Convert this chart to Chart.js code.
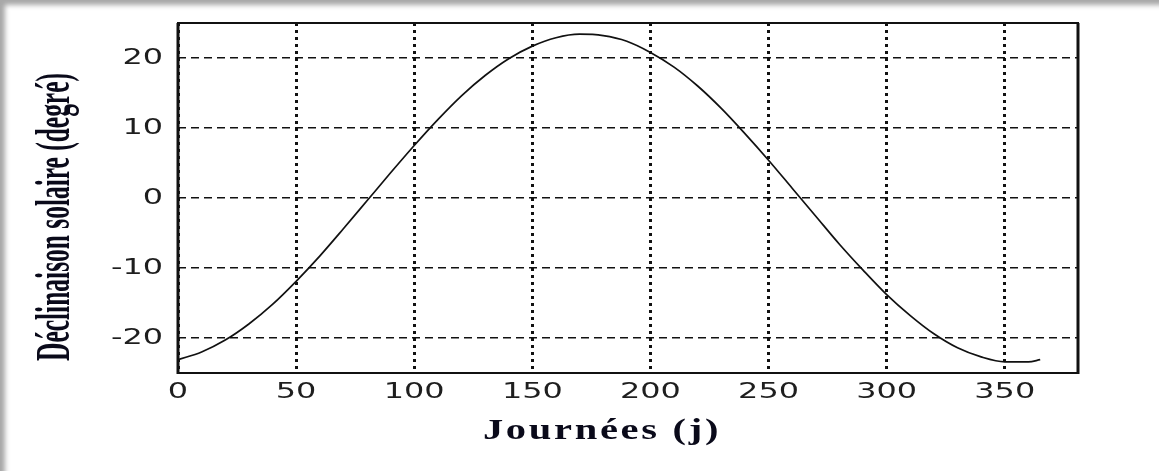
<!DOCTYPE html>
<html>
<head>
<meta charset="utf-8">
<script src="https://cdn.jsdelivr.net/npm/chart.js@4.4.1/dist/chart.umd.min.js"></script>
<style>
  html, body { margin: 0; padding: 0; background: #ffffff; }
  #wrap { position: relative; width: 1159px; height: 471px; box-shadow: inset 6px 6px 5px -1px #a8a8a8; }
  canvas { position: absolute; left: 0; top: 0; }
</style>
</head>
<body>
<div id="wrap"><canvas id="c" width="1159" height="471"></canvas></div>
<script>
// ---- data ----
const days = [0,10,20,30,40,50,60,70,80,90,100,110,120,130,140,150,160,170,180,190,200,210,220,230,240,250,260,270,280,290,300,310,320,330,340,350,360,365];
const declination = [-23.1,-22.0,-20.3,-18.0,-15.2,-11.9,-8.3,-4.4,-0.4,3.6,7.5,11.2,14.6,17.5,19.9,21.7,22.9,23.4,23.2,22.4,20.8,18.7,16.0,12.8,9.2,5.4,1.4,-2.6,-6.6,-10.3,-13.8,-16.8,-19.4,-21.4,-22.7,-23.4,-23.4,-23.1];
const xTicks = [0,50,100,150,200,250,300,350];
const yTicks = [-20,-10,0,10,20];
const xTitle = 'Journées (j)';
const yTitle = 'Déclinaison solaire (degré)';

// ---- styling / layout constants ----
const TICK_STRETCH = 1.45;
const Y_LABEL_SHIFT = -10;
const Y_TITLE = { x: 57, y: 217, squeeze: 0.53, font: 'bold 48px "Liberation Serif"' };
const X_TITLE = { x: 602, y: 431, stretch: 1.35, spacing: '2px', font: 'bold 30px "Liberation Serif"' };

const points = days.map((d, i) => ({ x: d, y: declination[i] }));

function stretchedLabels(stretch, dx) {
  return function (chartArea) {
    const ctx = this.ctx;
    const items = this.getLabelItems(chartArea);
    for (const item of items) {
      const o = item.options;
      ctx.save();
      ctx.letterSpacing = '0px';
      ctx.font = item.font.string;
      ctx.fillStyle = o.color;
      ctx.textAlign = o.textAlign;
      ctx.textBaseline = o.textBaseline;
      ctx.translate(o.translation[0] + dx, o.translation[1]);
      ctx.scale(stretch, 1);
      ctx.fillText(item.label, 0, item.textOffset || 0);
      ctx.restore();
    }
  };
}

const frameAndText = {
  id: 'frameAndText',
  beforeDraw(chart) {
    const xs = chart.scales.x, ys = chart.scales.y;
    if (!ys._patched) {
      ys._patched = true;
      ys.drawLabels = stretchedLabels(TICK_STRETCH, Y_LABEL_SHIFT);
      ys.drawTitle = function () {
        const o = this.options.title; if (!o.display) return;
        const ctx = this.ctx;
        ctx.save();
        ctx.letterSpacing = '0px';
        ctx.font = Y_TITLE.font;
        ctx.fillStyle = o.color;
        ctx.textAlign = 'center'; ctx.textBaseline = 'middle';
        ctx.translate(Y_TITLE.x, Y_TITLE.y);
        ctx.rotate(-Math.PI / 2);
        ctx.scale(Y_TITLE.squeeze, 1);
        ctx.fillText(o.text, 0, 0);
        ctx.restore();
      };
    }
    if (!xs._patched) {
      xs._patched = true;
      xs.drawLabels = stretchedLabels(TICK_STRETCH, 0);
      xs.drawTitle = function () {
        const o = this.options.title; if (!o.display) return;
        const ctx = this.ctx;
        ctx.save();
        ctx.letterSpacing = X_TITLE.spacing;
        ctx.font = X_TITLE.font;
        ctx.fillStyle = o.color;
        ctx.textAlign = 'center'; ctx.textBaseline = 'middle';
        ctx.translate(X_TITLE.x, X_TITLE.y);
        ctx.scale(X_TITLE.stretch, 1);
        ctx.fillText(o.text, 0, 0);
        ctx.restore();
      };
    }
  },
  afterDraw(chart) {
    const { left, right, top, bottom } = chart.chartArea;
    const ctx = chart.ctx;
    ctx.save();
    ctx.setLineDash([]);
    ctx.strokeStyle = '#111';
    ctx.lineWidth = 2;
    ctx.strokeRect(left, top, right - left, bottom - top);
    ctx.lineWidth = 3;
    ctx.beginPath(); ctx.moveTo(right, top); ctx.lineTo(right, bottom + 1); ctx.stroke();
    ctx.beginPath(); ctx.moveTo(left, top); ctx.lineTo(left, bottom + 1); ctx.stroke();
    ctx.restore();
  }
};

new Chart(document.getElementById('c'), {
  type: 'line',
  data: {
    datasets: [{
      data: points,
      borderColor: '#111',
      borderWidth: 1.7,
      pointRadius: 0,
      fill: false,
      cubicInterpolationMode: 'monotone'
    }]
  },
  options: {
    responsive: false,
    animation: false,
    devicePixelRatio: 1,
    layout: { padding: { left: 0, top: 23, right: 81, bottom: 0 } },
    plugins: { legend: { display: false }, tooltip: { enabled: false } },
    scales: {
      x: {
        type: 'linear', min: 0, max: 381,
        afterBuildTicks: s => { s.ticks = xTicks.map(v => ({ value: v })); },
        afterFit: s => { s.height = 98; },
        ticks: { color: '#1e1e1e', font: { family: 'DejaVu Sans', size: 22 }, padding: 6, maxRotation: 0, autoSkip: false },
        grid: { color: '#111', lineWidth: 3, drawTicks: false, tickLength: 0 },
        border: { display: false, dash: [3, 4] },
        title: { display: true, text: xTitle, color: '#0a0a1a' }
      },
      y: {
        type: 'linear', min: -25, max: 25,
        afterBuildTicks: s => { s.ticks = yTicks.map(v => ({ value: v })); },
        afterFit: s => { s.width = 178; },
        ticks: { color: '#1e1e1e', font: { family: 'DejaVu Sans', size: 22 }, padding: 5 },
        grid: { color: '#111', lineWidth: 1.6, drawTicks: false, tickLength: 0 },
        border: { display: false, dash: [8, 5] },
        title: { display: true, text: yTitle, color: '#0a0a1a' }
      }
    }
  },
  plugins: [frameAndText]
});
</script>
</body>
</html>
